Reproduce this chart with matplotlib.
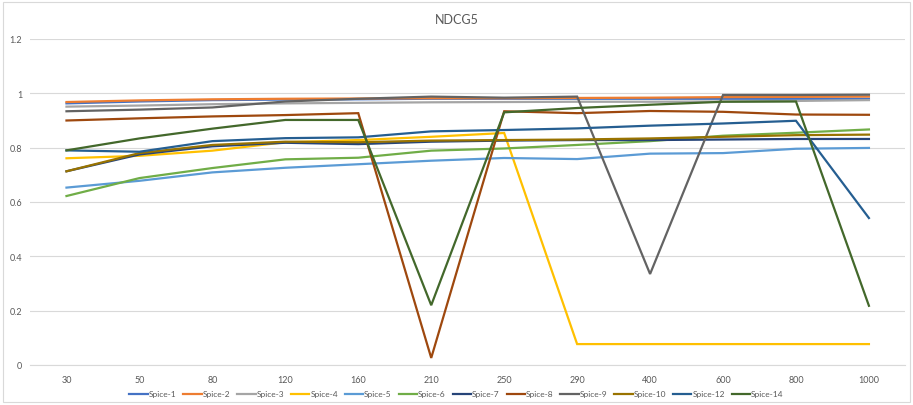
import numpy as np
import matplotlib
matplotlib.use('Agg')
import matplotlib.pyplot as plt
from matplotlib.patches import Rectangle
from matplotlib.ticker import FuncFormatter, MultipleLocator

plt.rcParams['font.family'] = ['Lato', 'DejaVu Sans']

# Training sizes (categorical x axis)
sizes = ['30', '50', '80', '120', '160', '210', '250', '290', '400', '600', '800', '1000']

spice_1 = [0.963, 0.970, 0.975, 0.977, 0.978, 0.980, 0.980, 0.980, 0.980, 0.980, 0.980, 0.980]
spice_2 = [0.968, 0.974, 0.978, 0.980, 0.981, 0.982, 0.982, 0.983, 0.984, 0.986, 0.987, 0.988]
spice_3 = [0.951, 0.955, 0.960, 0.963, 0.965, 0.967, 0.968, 0.969, 0.969, 0.970, 0.972, 0.975]
spice_4 = [0.761, 0.770, 0.789, 0.820, 0.828, 0.840, 0.854, 0.077, 0.077, 0.077, 0.077, 0.077]
spice_5 = [0.653, 0.678, 0.709, 0.726, 0.739, 0.752, 0.762, 0.758, 0.778, 0.780, 0.796, 0.799]
spice_6 = [0.622, 0.688, 0.725, 0.757, 0.763, 0.789, 0.797, 0.810, 0.824, 0.844, 0.855, 0.867]
spice_7 = [0.713, 0.775, 0.805, 0.818, 0.813, 0.822, 0.826, 0.828, 0.828, 0.830, 0.832, 0.832]
spice_8 = [0.900, 0.908, 0.915, 0.920, 0.927, 0.026, 0.934, 0.927, 0.935, 0.932, 0.922, 0.921]
spice_9 = [0.934, 0.940, 0.948, 0.970, 0.980, 0.988, 0.984, 0.988, 0.335, 0.994, 0.994, 0.995]
spice_10 = [0.713, 0.780, 0.810, 0.822, 0.820, 0.826, 0.828, 0.830, 0.834, 0.840, 0.846, 0.848]
spice_12 = [0.790, 0.785, 0.824, 0.835, 0.838, 0.860, 0.865, 0.871, 0.881, 0.889, 0.899, 0.541]
spice_14 = [0.790, 0.834, 0.870, 0.902, 0.902, 0.220, 0.930, 0.946, 0.958, 0.969, 0.970, 0.218]

series = [
    ('Spice-1', spice_1, '#4472C4'),
    ('Spice-2', spice_2, '#ED7D31'),
    ('Spice-3', spice_3, '#A5A5A5'),
    ('Spice-4', spice_4, '#FFC000'),
    ('Spice-5', spice_5, '#5B9BD5'),
    ('Spice-6', spice_6, '#70AD47'),
    ('Spice-7', spice_7, '#264478'),
    ('Spice-8', spice_8, '#9E480E'),
    ('Spice-9', spice_9, '#636363'),
    ('Spice-10', spice_10, '#997300'),
    ('Spice-12', spice_12, '#255E91'),
    ('Spice-14', spice_14, '#43682B'),
]

TEXT = '#595959'
GRID = '#D9D9D9'

fig = plt.figure(figsize=(9.13, 4.06), dpi=100)
ax = fig.add_axes([30 / 913, 1 - 366 / 406, 875.4 / 913, 326 / 406])

# chart border
fig.patches.append(Rectangle((3 / 913, 3 / 406), 907 / 913, 400 / 406,
                             transform=fig.transFigure, fill=False,
                             edgecolor=GRID, linewidth=0.8))

x = np.arange(len(sizes))
for name, vals, color in series:
    ax.plot(x, vals, color=color, linewidth=1.6, label=name,
            solid_joinstyle='miter', zorder=3)

ax.set_xlim(-0.5, len(sizes) - 0.5)
ax.set_ylim(0, 1.2)
ax.yaxis.set_major_locator(MultipleLocator(0.2))
ax.yaxis.set_major_formatter(FuncFormatter(lambda v, p: '%g' % round(v, 1)))
ax.set_xticks(x)
ax.set_xticklabels(sizes)
ax.grid(axis='y', color=GRID, linewidth=0.8, zorder=0)
ax.set_axisbelow(True)
for s in ax.spines.values():
    s.set_visible(False)
ax.spines['bottom'].set_visible(True)
ax.spines['bottom'].set_color(GRID)
ax.spines['bottom'].set_linewidth(0.8)
ax.tick_params(axis='both', length=0, labelsize=6.5, colors=TEXT)
ax.tick_params(axis='x', pad=7)
ax.tick_params(axis='y', pad=5.5)

fig.text(0.5, 1 - 20 / 406, 'NDCG5', ha='center', va='center',
         fontsize=9, color=TEXT)

fig.legend(loc='center', bbox_to_anchor=(0.5, 1 - 395 / 406), ncol=12,
           frameon=False, fontsize=6, labelcolor=TEXT, handlelength=2.2,
           handletextpad=0.1, columnspacing=0.85)

fig.savefig('out.png', dpi=100)
plt.close(fig)
